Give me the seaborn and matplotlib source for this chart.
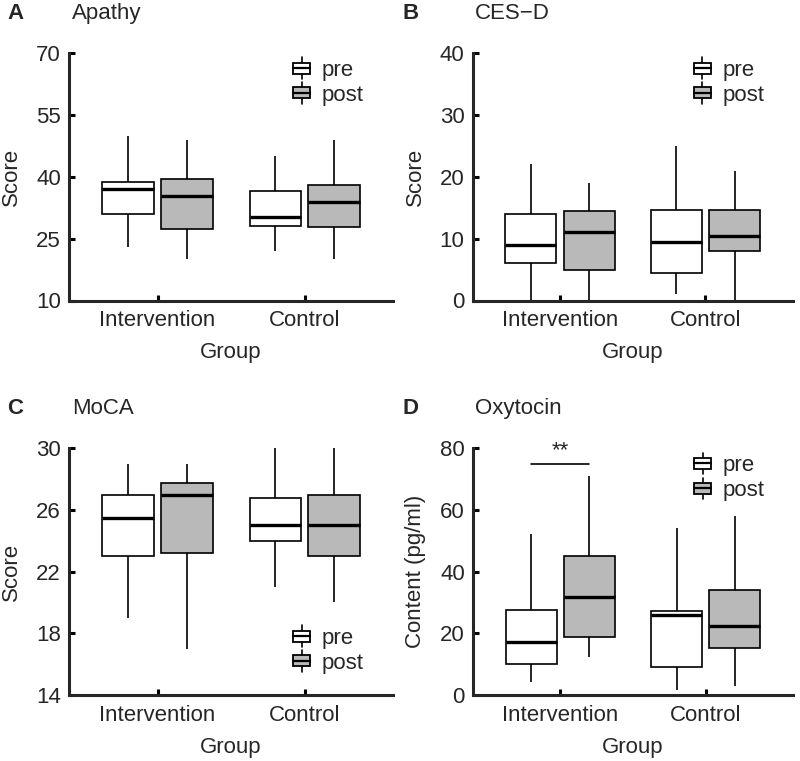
import numpy as np
import pandas as pd
import matplotlib
matplotlib.use("Agg")
import matplotlib.pyplot as plt
import seaborn as sns
from matplotlib.patches import Patch, Rectangle
from matplotlib.lines import Line2D
from matplotlib.legend_handler import HandlerBase

# ---------------- data (five-number summaries) -------------
groups = ["Intervention", "Control"]
times = ["pre", "post"]

# order of each list: [min, Q1, median, Q3, max]
apathy_int_pre = [23, 31, 37, 38.7, 50]
apathy_int_post = [20, 27.3, 35.3, 39.5, 49]
apathy_ctl_pre = [22, 28, 30.2, 36.5, 45]
apathy_ctl_post = [20, 27.8, 34, 38, 49]

cesd_int_pre = [0, 6, 9, 14, 22]
cesd_int_post = [0, 5, 11, 14.5, 19]
cesd_ctl_pre = [1, 4.5, 9.5, 14.7, 25]
cesd_ctl_post = [0, 8, 10.5, 14.7, 21]

moca_int_pre = [19, 23, 25.5, 27, 29]
moca_int_post = [17, 23.2, 27, 27.75, 29]
moca_ctl_pre = [21, 24, 25, 26.75, 30]
moca_ctl_post = [20, 23, 25, 27, 30]

oxy_int_pre = [4.3, 10, 17.1, 27.6, 52.2]
oxy_int_post = [12.2, 18.9, 31.9, 45.2, 71.1]
oxy_ctl_pre = [1.6, 9.2, 25.8, 27.2, 54.1]
oxy_ctl_post = [2.9, 15.1, 22.4, 34.1, 58.1]

panel_letters = ["A", "B", "C", "D"]
panel_titles = ["Apathy", "CES\u2212D", "MoCA", "Oxytocin"]
y_labels = ["Score", "Score", "Score", "Content (pg/ml)"]
y_ticks = [[10, 25, 40, 55, 70], [0, 10, 20, 30, 40], [14, 18, 22, 26, 30], [0, 20, 40, 60, 80]]
x_label = "Group"
sig_label = "**"
sig_level = 75

panel_data = [
    (apathy_int_pre, apathy_int_post, apathy_ctl_pre, apathy_ctl_post),
    (cesd_int_pre, cesd_int_post, cesd_ctl_pre, cesd_ctl_post),
    (moca_int_pre, moca_int_post, moca_ctl_pre, moca_ctl_post),
    (oxy_int_pre, oxy_int_post, oxy_ctl_pre, oxy_ctl_post),
]


def to_frame(ip, ipo, cp, cpo):
    rows = []
    for g, t, vals in [("Intervention", "pre", ip), ("Intervention", "post", ipo),
                       ("Control", "pre", cp), ("Control", "post", cpo)]:
        for v in vals:
            rows.append({"Group": g, "time": t, "value": v})
    return pd.DataFrame(rows)


# ---------------- style -------------
sns.set_theme(style="ticks")
plt.rcParams["font.family"] = ["Liberation Sans", "DejaVu Sans"]
plt.rcParams["axes.linewidth"] = 2.0

fill_colors = {"pre": "white", "post": "#b9b9b9"}


class BoxHandler(HandlerBase):
    def create_artists(self, legend, orig_handle, xdescent, ydescent, width, height, fontsize, trans):
        x0, y0 = -xdescent, -ydescent
        face = orig_handle.get_facecolor()
        bh = height * 0.62
        by = y0 + (height - bh) / 2
        rect = Rectangle((x0, by), width, bh, facecolor=face, edgecolor="black", lw=1.3, transform=trans)
        med = Line2D([x0, x0 + width], [by + bh / 2] * 2, color="black", lw=1.6, transform=trans)
        cx = x0 + width / 2
        w1 = Line2D([cx, cx], [y0 - height * 0.1, by], color="black", lw=1.2, transform=trans)
        w2 = Line2D([cx, cx], [by + bh, y0 + height * 1.1], color="black", lw=1.2, transform=trans)
        return [w1, w2, rect, med]


W, H = 800, 761
fig = plt.figure(figsize=(W / 100, H / 100), dpi=100)

# axes boxes in pixels: (left, right, top, bottom)
boxes = [(69.3, 393, 53, 300.5), (472.7, 792.7, 53, 300.5),
         (69.3, 393, 448.3, 695), (473.3, 792.7, 448.3, 695)]
legend_anchor_y = [0.975, 0.975, 0.275, 0.975]

for i, (l, r, t, b) in enumerate(boxes):
    ax = fig.add_axes([l / W, 1 - b / H, (r - l) / W, (b - t) / H])
    df = to_frame(*panel_data[i])
    sns.boxplot(data=df, x="Group", y="value", hue="time", order=groups, hue_order=times,
                palette=fill_colors, whis=(0, 100), showcaps=False, fliersize=0,
                linecolor="black", linewidth=1.2, width=0.8, gap=0.125,
                medianprops={"linewidth": 2.4}, saturation=1, legend=False, ax=ax)
    ax.set_xlim(-0.6, 1.6)
    ax.set_ylim(y_ticks[i][0], y_ticks[i][-1])
    ax.set_yticks(y_ticks[i])
    sns.despine(ax=ax)
    ax.spines["left"].set_linewidth(2.2)
    ax.spines["bottom"].set_linewidth(2.2)
    ax.tick_params(axis="both", direction="in", length=4.5, width=2.2, labelsize=16, color="black")
    ax.tick_params(axis="y", pad=6)
    ax.tick_params(axis="x", pad=7)
    ax.set_xlabel(x_label, fontsize=16, labelpad=8)
    ax.set_ylabel(y_labels[i], fontsize=16, labelpad=10)

    handles = [Patch(facecolor=fill_colors[tm], edgecolor="black", label=tm) for tm in times]
    hmap = {h: BoxHandler() for h in handles}
    ax.legend(handles=handles, handler_map=hmap, loc="upper left",
              bbox_to_anchor=(0.69, legend_anchor_y[i]), frameon=False, fontsize=16,
              handlelength=0.8, handleheight=0.85, handletextpad=0.5,
              labelspacing=0.15, borderpad=0, borderaxespad=0)

    # panel letter and title
    ty = t - 39.5
    lx = 7 if i % 2 == 0 else 403
    tx = 71.7 if i % 2 == 0 else 475
    fig.text(lx / W, 1 - ty / H, panel_letters[i], fontsize=16, fontweight="bold", va="center", ha="left")
    fig.text(tx / W, 1 - ty / H, panel_titles[i], fontsize=16, va="center", ha="left")

    if i == 3:
        ax.plot([-0.2, 0.2], [sig_level, sig_level], color="black", lw=1.2)
        ax.text(0, sig_level + 0.8, sig_label, ha="center", va="bottom", fontsize=16)

fig.savefig("out.png", dpi=100)
